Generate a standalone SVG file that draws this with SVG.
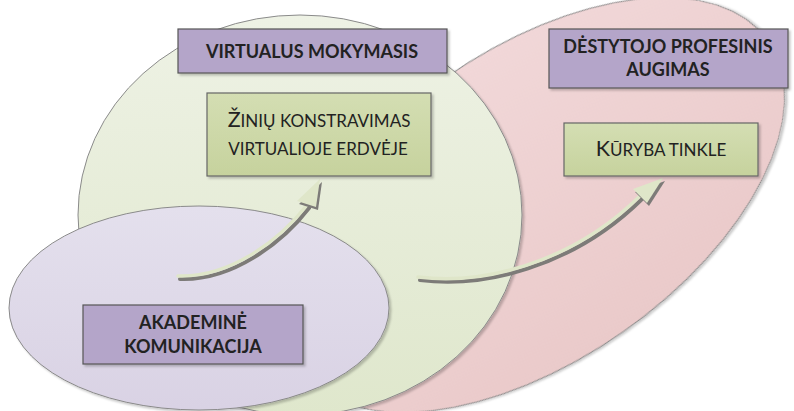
<svg xmlns="http://www.w3.org/2000/svg" width="794" height="411" viewBox="0 0 794 411">
<defs>
<linearGradient id="gGreen" x1="0" y1="0" x2="0" y2="1"><stop offset="0" stop-color="#eef2e5"/><stop offset="1" stop-color="#dfe7cc"/></linearGradient>
<linearGradient id="gPurple" x1="0" y1="0" x2="0" y2="1"><stop offset="0" stop-color="#e4e0ed"/><stop offset="1" stop-color="#d9d2e4"/></linearGradient>
<linearGradient id="gRed" x1="0" y1="0" x2="0" y2="1"><stop offset="0" stop-color="#f1d7d8"/><stop offset="1" stop-color="#eacaca"/></linearGradient>
<linearGradient id="gBoxG" x1="0" y1="0" x2="0" y2="1"><stop offset="0" stop-color="#d4deb3"/><stop offset="1" stop-color="#c6d29d"/></linearGradient>
<filter id="sh" x="-10%" y="-10%" width="120%" height="120%"><feDropShadow dx="2" dy="2" stdDeviation="1.2" flood-color="#000" flood-opacity="0.22"/></filter>
</defs>
<style>
.ell{stroke:#8a8a8a;stroke-width:1;filter:url(#sh)}
.boxP{fill:#b4a5c9;stroke:#555;stroke-width:1.2;filter:url(#sh)}
.boxG{fill:url(#gBoxG);stroke:#666;stroke-width:1.2;filter:url(#sh)}
.tb{font-family:Lato,"Liberation Sans",sans-serif;font-weight:bold;font-size:18px;fill:#222;text-anchor:middle}
.tn{font-family:Lato,"Liberation Sans",sans-serif;font-size:17px;fill:#222;text-anchor:middle}
.big{font-size:21.5px}
.shaftS{fill:none;stroke:#7d7b78;stroke-width:4;stroke-linecap:round}
.shaft{fill:none;stroke:#dfe6c9;stroke-width:3.5;stroke-linecap:round}
.headS{fill:#7d7b78}
.head{fill:#dfe6c9}
</style>
<g id="ellipse-destytojo">
<ellipse class="ell" cx="534" cy="205" rx="286" ry="155" transform="rotate(-35 534 205)" fill="url(#gRed)"/>
</g>
<g id="ellipse-virtualus">
<ellipse class="ell" cx="300" cy="215" rx="222" ry="200" fill="url(#gGreen)"/>
</g>
<g id="ellipse-akademine">
<ellipse class="ell" cx="199" cy="308" rx="190" ry="102" fill="url(#gPurple)"/>
</g>
<g id="connectors">
<path class="shaftS" d="M180,279 C232,281 282,243 309,208"/>
<path class="shaft" d="M178,276 C230,278 280,240 307,205"/>
<polygon class="headS" points="322,182 299,204 318,210"/>
<polygon class="head" points="320,179 297,201 316,207"/>
<path class="shaftS" d="M420,280 C482,288 572,268 642,199"/>
<path class="shaft" d="M418,277 C480,285 570,265 640,196"/>
<polygon class="headS" points="665,181 635,192 649,206"/>
<polygon class="head" points="663,178 633,189 647,203"/>
</g>
<g id="box-virtualus">
<rect class="boxP" x="178" y="29" width="269" height="44"/>
<text class="tb" x="312" y="58">VIRTUALUS MOKYMASIS</text>
</g>
<g id="box-destytojo">
<rect class="boxP" x="549" y="29" width="239" height="59"/>
<text class="tb" x="668" y="53">DĖSTYTOJO PROFESINIS</text>
<text class="tb" x="668" y="76">AUGIMAS</text>
</g>
<g id="box-ziniu">
<rect class="boxG" x="207" y="93" width="224" height="83"/>
<text class="tn" x="319" y="127"><tspan class="big">Ž</tspan>INIŲ KONSTRAVIMAS</text>
<text class="tn" x="318" y="155">VIRTUALIOJE ERDVĖJE</text>
</g>
<g id="box-kuryba">
<rect class="boxG" x="564" y="123" width="194" height="53"/>
<text class="tn" x="661" y="156"><tspan class="big">K</tspan>ŪRYBA TINKLE</text>
</g>
<g id="box-akademine">
<rect class="boxP" x="83" y="305" width="220" height="59"/>
<text class="tb" x="193" y="329">AKADEMINĖ</text>
<text class="tb" x="193" y="353">KOMUNIKACIJA</text>
</g>
</svg>
